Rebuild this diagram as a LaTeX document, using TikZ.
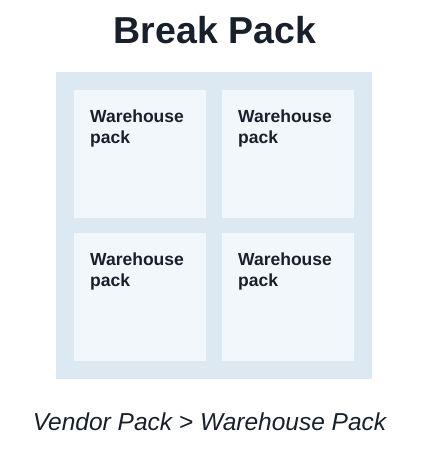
\documentclass[tikz,border=0pt]{standalone}
\usepackage{fontspec}
\setmainfont{Liberation Sans}
\usepackage{tikz}
\definecolor{framefill}{HTML}{DCE9F2}
\definecolor{packfill}{HTML}{F2F7FB}
\definecolor{ink}{HTML}{17202B}
\tikzstyle{frame}=[fill=framefill, inner sep=0, outer sep=0, minimum width=316pt, minimum height=307pt]
\tikzstyle{pack}=[fill=packfill, inner sep=0, outer sep=0, minimum width=132pt, minimum height=128pt]
\tikzstyle{packtext}=[text=ink, inner sep=0, align=left, font=\fontsize{17.5}{21}\selectfont\bfseries]
\usetikzlibrary{positioning,calc}
\begin{document}
\begin{tikzpicture}[x=1pt,y=1pt,node distance=16pt]
\useasboundingbox (0,0) rectangle (431,-451);
\node (frame) [frame] at (214,-225.5) {};
\node (p11) [pack, below right=18pt and 18pt of frame.north west] {};
\node (p12) [pack, right=of p11] {};
\node (p21) [pack, below=15pt of p11] {};
\node (p22) [pack, below=15pt of p12] {};
\node (t11) [packtext, below right=20pt and 16pt of p11.north west] {Warehouse\\pack};
\node (t12) [packtext, below right=20pt and 16pt of p12.north west] {Warehouse\\pack};
\node (t21) [packtext, below right=20pt and 16pt of p21.north west] {Warehouse\\pack};
\node (t22) [packtext, below right=20pt and 16pt of p22.north west] {Warehouse\\pack};
\node (title) [anchor=base, text=ink, font=\fontsize{37.5}{40}\selectfont\bfseries] at ($(frame.north)+(1,29)$) {Break Pack};
\node (caption) [anchor=base, text=ink, font=\fontsize{24.5}{27}\selectfont\itshape] at ($(frame.south)+(-4.5,-51)$) {Vendor Pack > Warehouse Pack};
\end{tikzpicture}
\end{document}
